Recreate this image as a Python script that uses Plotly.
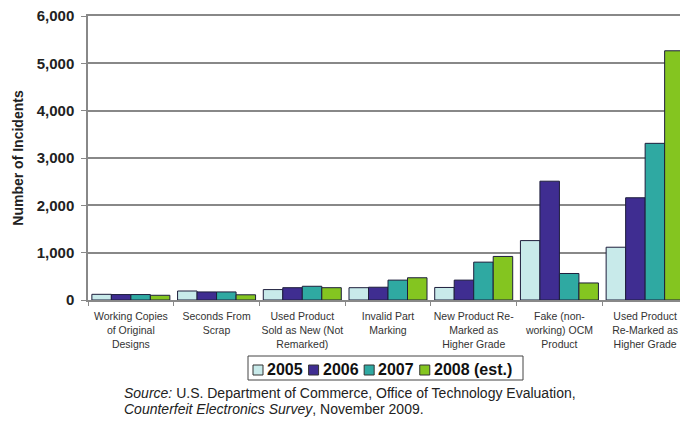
import plotly.graph_objects as go

categories = [
    "Working Copies<br>of Original<br>Designs",
    "Seconds From<br>Scrap",
    "Used Product<br>Sold as New (Not<br>Remarked)",
    "Invalid Part<br>Marking",
    "New Product Re-<br>Marked as<br>Higher Grade",
    "Fake (non-<br>working) OCM<br>Product",
    "Used Product<br>Re-Marked as<br>Higher Grade",
]
series_names = ["2005", "2006", "2007", "2008 (est.)"]
v2005 = [120, 190, 220, 260, 265, 1255, 1115]
v2006 = [115, 170, 260, 270, 420, 2510, 2160]
v2007 = [115, 170, 290, 420, 800, 560, 3310]
v2008 = [100, 110, 260, 470, 920, 360, 5265]
colors = ["#c8eaea", "#3f2d91", "#2fa9a2", "#84c520"]
y_ticks = [0, 1000, 2000, 3000, 4000, 5000, 6000]
y_labels = ["0", "1,000", "2,000", "3,000", "4,000", "5,000", "6,000"]

W, H = 680, 415
ML, MR, MT, MB = 80, 0, 8, 123
PW, PH = W - ML - MR, H - MT - MB
OFF = 8  # page body margin


def px(X):
    return (X - OFF - ML) / PW


def py(Y):
    return (H - MB - (Y - OFF)) / PH


fig = go.Figure()
for name, vals, c in zip(series_names, [v2005, v2006, v2007, v2008], colors):
    fig.add_trace(go.Bar(
        x=categories, y=vals, name=name,
        marker=dict(color=c, line=dict(color="#1e1e3c", width=1)),
        showlegend=False,
    ))

fig.update_layout(
    width=W, height=H,
    margin=dict(l=ML, r=MR, t=MT, b=MB, autoexpand=False),
    paper_bgcolor="white", plot_bgcolor="white",
    barmode="group", bargap=0.09, bargroupgap=0,
    font=dict(family="Liberation Sans, Arial", color="#222"),
)
fig.update_xaxes(
    type="category", tickson="boundaries", ticks="outside", ticklen=4,
    tickcolor="#888", showline=True, linecolor="#888", linewidth=1.5, mirror=True,
    tickfont=dict(size=10.5, color="#333"), showgrid=False, tickangle=0,
    automargin=False, ticklabelstandoff=6,
)
fig.update_yaxes(
    range=[0, 6000], tickvals=y_ticks, ticktext=y_labels,
    ticks="outside", ticklen=5, tickcolor="#888",
    showline=True, linecolor="#888", linewidth=1.5,
    showgrid=True, gridcolor="#888", gridwidth=1.5,
    tickfont=dict(size=15, color="#222", weight="bold"), ticklabelstandoff=4,
    ticklabeloverflow="allow",
    title=dict(text="Number of Incidents", font=dict(size=14, color="#222", weight="bold"), standoff=10),
    zeroline=False, automargin=False,
)

# legend drawn as a compact box (matching original layout)
bold_w = {c: 0.556 for c in "0123456789es"}
bold_w.update({" ": 0.278, "(": 0.333, ")": 0.333, "t": 0.333, ".": 0.278})
lfs = 16
fig.add_shape(type="rect", xref="paper", yref="paper",
              x0=px(248), x1=px(523), y0=py(356), y1=py(380),
              line=dict(color="#444", width=1), fillcolor="white")
cx = 253
for name, c in zip(series_names, colors):
    fig.add_shape(type="rect", xref="paper", yref="paper",
                  x0=px(cx), x1=px(cx + 10), y0=py(365), y1=py(375),
                  line=dict(color="#333", width=1), fillcolor=c)
    fig.add_annotation(xref="paper", yref="paper", x=px(cx + 12), y=py(370),
                       xanchor="left", yanchor="middle", showarrow=False,
                       text=name, font=dict(size=lfs, color="#111", weight="bold"))
    tw = sum(bold_w.get(ch, 0.556) for ch in name) * lfs
    cx += 10 + 4 + tw + 6

fig.add_annotation(
    xref="paper", yref="paper", x=px(122), y=py(393), xanchor="left", yanchor="middle",
    showarrow=False,
    text="<i>Source:</i> U.S. Department of Commerce, Office of Technology Evaluation,",
    font=dict(size=14, color="#222"),
)
fig.add_annotation(
    xref="paper", yref="paper", x=px(122), y=py(409), xanchor="left", yanchor="middle",
    showarrow=False,
    text="<i>Counterfeit Electronics Survey</i>, November 2009.",
    font=dict(size=14, color="#222"),
)

fig.write_html("out.html")
